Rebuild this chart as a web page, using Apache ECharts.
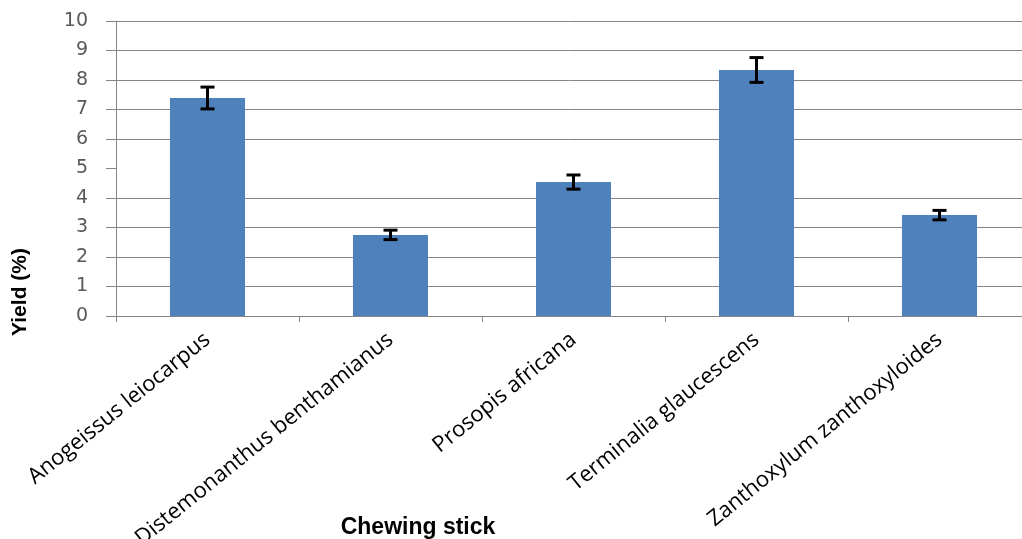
<!DOCTYPE html>
<html>
<head>
<meta charset="utf-8">
<script src="https://cdn.jsdelivr.net/npm/echarts@6/dist/echarts.min.js"></script>
<style>html,body{margin:0;padding:0;background:#fff}#c{width:1022px;height:539px}</style>
</head>
<body>
<div id="c"></div>
<script>
const categories = ['Anogeissus leiocarpus', 'Distemonanthus benthamianus', 'Prosopis africana', 'Terminalia glaucescens', 'Zanthoxylum zanthoxyloides'];
const yieldValues = [7.39, 2.75, 4.54, 8.34, 3.42];
const errorValues = [0.37, 0.16, 0.24, 0.42, 0.16];
const yTickLabels = ['0','1','2','3','4','5','6','7','8','9','10'];

const errData = yieldValues.map((v, i) => [i, v - errorValues[i], v + errorValues[i]]);
const gridColors = yTickLabels.map(t => t === '5' ? 'rgba(0,0,0,0)' : '#868686');

const chart = echarts.init(document.getElementById('c'), null, {renderer: 'canvas'});
chart.setOption({
  animation: false,
  backgroundColor: '#fff',
  grid: {left: 116, right: -9, top: 21, bottom: 223, containLabel: false, outerBoundsMode: 'none'},
  xAxis: {
    type: 'category',
    data: categories,
    axisLine: {show: true, lineStyle: {color: '#868686', width: 1}},
    axisTick: {show: true, alignWithLabel: false, length: 6, lineStyle: {color: '#868686'}},
    axisLabel: {
      rotate: 39, margin: 21, interval: 0,
      fontFamily: 'Open Sans', fontSize: 22, color: '#000'
    },
    splitLine: {show: false}
  },
  yAxis: {
    type: 'value', min: 0, max: 10, interval: 1,
    axisLine: {show: true, lineStyle: {color: '#868686', width: 1}},
    axisTick: {show: true, inside: false, length: 10, lineStyle: {color: '#868686'}},
    axisLabel: {
      margin: 28, fontFamily: 'DejaVu Sans', fontSize: 19, color: '#595959',
      formatter: v => yTickLabels[Math.round(v)]
    },
    splitLine: {show: true, lineStyle: {color: gridColors, width: 1}}
  },
  series: [
    {
      type: 'bar', data: yieldValues, barWidth: '41%',
      itemStyle: {color: '#4F81BD'}, z: 2
    },
    {
      type: 'custom', data: errData, z: 5,
      renderItem: function (params, api) {
        const x = api.value(0);
        const lo = api.coord([x, api.value(1)]);
        const hi = api.coord([x, api.value(2)]);
        const hw = 7;
        const st = {stroke: '#000', lineWidth: 3};
        return {
          type: 'group',
          children: [
            {type: 'line', shape: {x1: lo[0], y1: lo[1], x2: hi[0], y2: hi[1]}, style: st},
            {type: 'line', shape: {x1: hi[0] - hw, y1: hi[1], x2: hi[0] + hw, y2: hi[1]}, style: st},
            {type: 'line', shape: {x1: lo[0] - hw, y1: lo[1], x2: lo[0] + hw, y2: lo[1]}, style: st}
          ]
        };
      }
    }
  ],
  graphic: [
    {
      type: 'text', x: 20, y: 292, rotation: Math.PI / 2,
      style: {text: 'Yield (%)', fontFamily: '"Liberation Sans Narrow", "Liberation Sans", Arial', fontWeight: 'bold', fontSize: 21, fill: '#000', align: 'center', verticalAlign: 'middle'}
    },
    {
      type: 'text', x: 418, y: 528,
      style: {text: 'Chewing stick', fontFamily: '"Liberation Sans Narrow", "Liberation Sans", Arial', fontWeight: 'bold', fontSize: 23, fill: '#000', align: 'center', verticalAlign: 'middle'}
    }
  ]
});
</script>
</body>
</html>
